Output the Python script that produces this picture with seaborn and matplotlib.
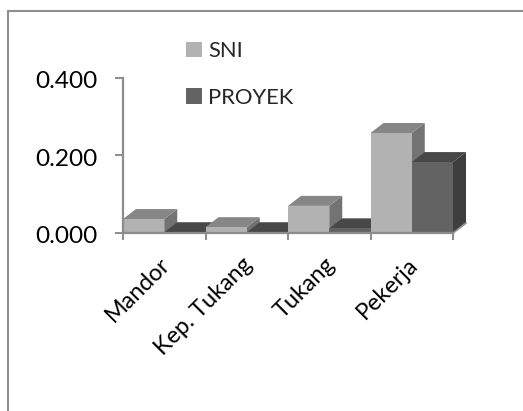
import matplotlib
matplotlib.use("Agg")
import matplotlib.pyplot as plt
from matplotlib.lines import Line2D
from matplotlib.patches import Polygon
from matplotlib.transforms import ScaledTranslation
import pandas as pd
import seaborn as sns

categories = ["Mandor", "Kep. Tukang", "Tukang", "Pekerja"]
sni = [0.036, 0.015, 0.070, 0.258]
proyek = [0.002, 0.002, 0.012, 0.183]
yticks = [0.0, 0.2, 0.4]

W, H = 523, 411
sns.set_style("white")
plt.rcParams["font.family"] = ["Lato", "DejaVu Sans"]

df = pd.DataFrame({
    "cat": categories * 2,
    "val": sni + proyek,
    "series": ["SNI"] * 4 + ["PROYEK"] * 4,
})
palette = {"SNI": "#b2b2b2", "PROYEK": "#636363"}
tops = {"SNI": "#868686", "PROYEK": "#484848"}
sides = {"SNI": "#737373", "PROYEK": "#3e3e3e"}

fig = plt.figure(figsize=(W / 100, H / 100), dpi=100, facecolor="white")
ax = fig.add_axes([123 / W, 1 - 233 / H, 330 / W, 155 / H])
sns.barplot(data=df, x="cat", y="val", hue="series", order=categories,
            hue_order=["SNI", "PROYEK"], palette=palette, width=1.0, gap=0,
            saturation=1, linewidth=0, ax=ax)
ax.set_xlim(-0.5, 3.5)
ax.set_ylim(0, 0.4)
ax.set_xlabel("")
ax.set_ylabel("")

# 3D depth expressed in data units
dx = 13 / 82.5
dy = 10 / 155 * 0.4
for s, name in enumerate(["SNI", "PROYEK"]):
    for i, bar in enumerate(ax.containers[s]):
        x0, x1 = bar.get_x(), bar.get_x() + bar.get_width()
        h = bar.get_height()
        z = 2 + i * 4 + s * 2
        ax.add_patch(Polygon([(x1, 0), (x1 + dx, dy), (x1 + dx, h + dy), (x1, h)],
                             fc=sides[name], ec="none", clip_on=False, zorder=z))
        ax.add_patch(Polygon([(x0, h), (x0 + dx, h + dy), (x1 + dx, h + dy), (x1, h)],
                             fc=tops[name], ec="none", clip_on=False, zorder=z))
        bar.set_zorder(z + 1)

axis_col = "#8c8c8c"
ax.plot([3.5, 3.5 + dx], [0, dy], color=axis_col, lw=1.3, clip_on=False, zorder=60)
for side in ["top", "right"]:
    ax.spines[side].set_visible(False)
for side in ["left", "bottom"]:
    ax.spines[side].set_color(axis_col)
    ax.spines[side].set_linewidth(1.6)
    ax.spines[side].set_zorder(50)

ax.set_yticks(yticks, [f"{v:.3f}" for v in yticks], fontsize=17.6, color="black")
ax.set_xticks([-0.5, 0.5, 1.5, 2.5, 3.5], minor=False, labels=[""] * 5)
ax.set_xticks(range(4), categories, minor=True, rotation=45, ha="right",
              rotation_mode="anchor", fontsize=16.8, color="black")
ax.tick_params(axis="y", length=6, width=1.4, color=axis_col, pad=12, left=True)
ax.tick_params(axis="x", which="major", length=5, width=1.4, color=axis_col, bottom=True)
ax.tick_params(axis="x", which="minor", length=0, pad=15)
shift = ScaledTranslation(-5 / 100, 0, fig.dpi_scale_trans)
for lab in ax.get_xticklabels(minor=True):
    lab.set_transform(lab.get_transform() + shift)
yshift = ScaledTranslation(0, -1.5 / 100, fig.dpi_scale_trans)
for lab in ax.get_yticklabels():
    lab.set_transform(lab.get_transform() + yshift)

handles, labels = ax.get_legend_handles_labels()
ax.legend(handles, labels, loc="upper left", bbox_to_anchor=(186 / W, 1 - 41 / H),
          bbox_transform=fig.transFigure, frameon=False, fontsize=15.8,
          handlelength=0.72, handleheight=0.72, handletextpad=0.3, labelspacing=1.21,
          borderpad=0, borderaxespad=0)

# Chart-area frame, cropped by the image on the right and bottom
frame = "#8f8f8f"
fig.add_artist(Line2D([8 / W, 8 / W], [0, 1 - 11 / H], color=frame, lw=1.5))
fig.add_artist(Line2D([8 / W, 1], [1 - 11 / H, 1 - 11 / H], color=frame, lw=1.5))

fig.savefig("out.png", dpi=100)
